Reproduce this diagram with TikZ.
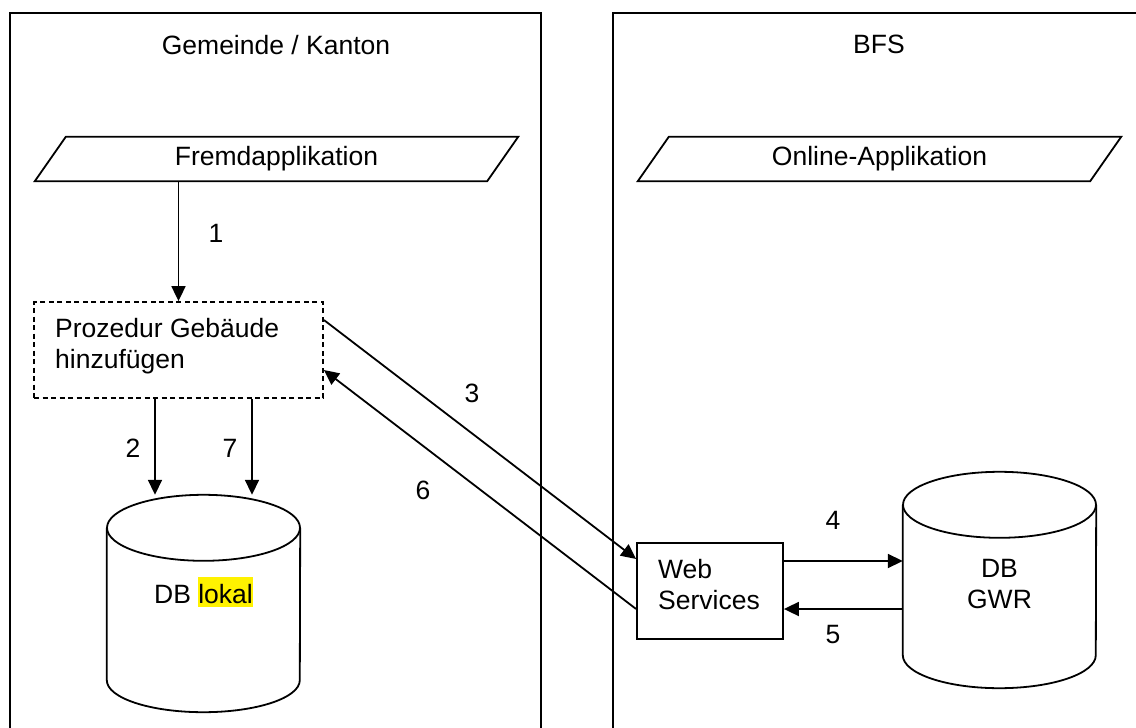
\documentclass[tikz,border=0pt]{standalone}
\usepackage{fontspec}
\setmainfont{Liberation Sans}
\usetikzlibrary{arrows.meta}
\begin{document}
\begin{tikzpicture}[x=1pt,y=-1pt,
  panel/.style={line width=2.6pt},
  thinline/.style={line width=1.8pt},
  arr/.style={line width=1.8pt,-{Triangle[length=15pt,width=14pt]}},
  txt/.style={inner sep=0pt,font=\fontsize{26.5}{31}\selectfont},
  boxnode/.style={draw,line width=1.8pt,inner sep=0pt,rectangle},
  dashbox/.style={boxnode,dash pattern=on 5pt off 3.5pt},
  frame/.style={inner sep=0pt,minimum width=452pt,minimum height=44pt,font=\fontsize{26.5}{31}\selectfont},
  cyl/.style={inner sep=0pt,minimum width=193pt}]
\useasboundingbox (0,0) rectangle (1136,728);
\clip (0,0) rectangle (1136,728);
\fill[white] (0,0) rectangle (1136,728);
% panels
\draw[panel] (10,760) -- (10,13) -- (541,13) -- (541,760);
\draw[panel] (613,760) -- (613,13) -- (1160,13);
\node[txt,anchor=base] (t1) at (276,54) {Gemeinde / Kanton};
\node[txt,anchor=base] (t2) at (879,53) {BFS};
% parallelograms
\node[frame] (fremd) at (276.5,159) {Fremdapplikation};
\draw[thinline] ([xshift=-15.5pt]fremd.south west) -- ([xshift=15.5pt]fremd.north west) -- ([xshift=15.5pt]fremd.north east) -- ([xshift=-15.5pt]fremd.south east) -- cycle;
\node[frame] (online) at (879.5,159) {Online-Applikation};
\draw[thinline] ([xshift=-15.5pt]online.south west) -- ([xshift=15.5pt]online.north west) -- ([xshift=15.5pt]online.north east) -- ([xshift=-15.5pt]online.south east) -- cycle;
% procedure box
\node[dashbox,minimum width=289pt,minimum height=96pt] (proc) at (178.5,350) {};
\node[txt,anchor=base west,align=left] (proctxt) at (55,368) {Prozedur Gebäude\\hinzufügen};
% DB lokal
\node[cyl,minimum height=217pt] (dbl) at (203.5,603.5) {};
\draw[thinline] ([yshift=-33pt]dbl.north west) -- ([yshift=32pt]dbl.south west) arc[start angle=180,end angle=360,x radius=96.5pt,y radius=32pt] -- ([yshift=-33pt]dbl.north east);
\draw[thinline] ([yshift=-33pt]dbl.north) ellipse [x radius=96.5pt,y radius=33pt];
\node[txt,anchor=base] (dbltxt) at (203.5,603) {DB {\setlength{\fboxsep}{0pt}\colorbox{yellow}{\rule[-4pt]{0pt}{30pt}lokal}}};
% Web services
\node[boxnode,minimum width=146pt,minimum height=96pt] (web) at (710,591) {};
\node[txt,anchor=base west,align=left] (webtxt) at (658,609) {Web\\Services};
% DB GWR
\node[cyl,minimum height=216pt] (gwr) at (999.5,580) {};
\draw[thinline] ([yshift=-33pt]gwr.north west) -- ([yshift=33pt]gwr.south west) arc[start angle=180,end angle=360,x radius=96.5pt,y radius=33pt] -- ([yshift=-33pt]gwr.north east);
\draw[thinline] ([yshift=-33pt]gwr.north) ellipse [x radius=96.5pt,y radius=33pt];
\node[txt,anchor=base,align=center] (gwrtxt) at (999.5,608) {DB\\GWR};
% arrows
\draw[arr] (proc.north |- fremd.south) -- (proc.north);
\draw[arr] ([xshift=-23.5pt]proc.south) -- ([xshift=-48.5pt]dbl.north);
\draw[arr] ([xshift=73.5pt]proc.south) -- ([xshift=48.5pt]dbl.north);
\draw[arr] ([yshift=30pt]proc.east) -- ([yshift=32pt]web.west);
\draw[arr] ([yshift=-18pt]web.west) -- ([yshift=-20pt]proc.east);
\draw[arr] ([yshift=30pt]web.east) -- ([yshift=30pt]web.east -| gwr.west);
\draw[arr] ([yshift=-18pt]web.east -| gwr.west) -- ([yshift=-18pt]web.east);
% labels
\node[txt] (l1) at (216,233.5) {1};
\node[txt] (l2) at (133,448) {2};
\node[txt] (l7) at (230,448) {7};
\node[txt] (l3) at (472,393) {3};
\node[txt] (l6) at (423,490) {6};
\node[txt] (l4) at (833,520) {4};
\node[txt] (l5) at (833,635) {5};
\end{tikzpicture}
\end{document}
